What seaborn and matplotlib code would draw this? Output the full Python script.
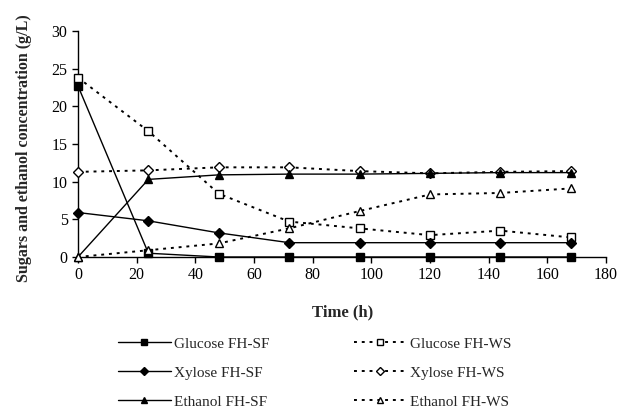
import matplotlib
matplotlib.use("Agg")
import matplotlib.pyplot as plt
import seaborn as sns
import pandas as pd
from matplotlib.lines import Line2D

sns.set_theme(style="ticks")
plt.rcParams["font.family"] = ["Liberation Serif", "DejaVu Serif"]

time_h = [0, 24, 48, 72, 96, 120, 144, 168]
glucose_sf = [22.7, 0.5, 0.0, 0.0, 0.0, 0.0, 0.0, 0.0]
xylose_sf = [5.9, 4.8, 3.2, 1.9, 1.9, 1.9, 1.9, 1.9]
ethanol_sf = [0.0, 10.3, 10.9, 11.0, 11.0, 11.1, 11.2, 11.2]
glucose_ws = [23.8, 16.7, 8.4, 4.7, 3.8, 2.9, 3.5, 2.6]
xylose_ws = [11.3, 11.5, 11.9, 11.9, 11.4, 11.1, 11.3, 11.4]
ethanol_ws = [0.0, 0.9, 1.8, 3.8, 6.1, 8.3, 8.5, 9.1]

series = [
    ("Glucose FH-SF", glucose_sf, "s", "black", "-"),
    ("Glucose FH-WS", glucose_ws, "s", "white", (0, (1.5, 2.5))),
    ("Xylose FH-SF", xylose_sf, "D", "black", "-"),
    ("Xylose FH-WS", xylose_ws, "D", "white", (0, (1.5, 2.5))),
    ("Ethanol FH-SF", ethanol_sf, "^", "black", "-"),
    ("Ethanol FH-WS", ethanol_ws, "^", "white", (0, (1.5, 2.5))),
]

fig = plt.figure(figsize=(6.19, 4.11), dpi=100)
ax = fig.add_axes([0.126, 0.3747, 0.853, 0.55])

handles = {}
for name, vals, mk, fc, ls in series:
    df = pd.DataFrame({"t": time_h, "v": vals})
    ms = 6 if mk != "D" else 5
    lw = 1.0 if ls == "-" else 1.4
    sns.lineplot(data=df, x="t", y="v", ax=ax, color="black", linestyle=ls,
                 linewidth=lw, marker=mk, markersize=ms, markerfacecolor=fc,
                 markeredgecolor="black", markeredgewidth=1.0, clip_on=False,
                 legend=False, zorder=3)
    handles[name] = Line2D([], [], color="black", linestyle=ls, linewidth=lw,
                           marker=mk, markersize=ms - 1, markerfacecolor=fc,
                           markeredgecolor="black")

ax.set_xlim(0, 180)
ax.set_ylim(0, 30)
ax.set_xticks(range(0, 181, 20))
ax.set_yticks(range(0, 31, 5))
ax.tick_params(axis="both", direction="out", length=4, width=1, labelsize=11.5,
               colors="black")
for s in ["top", "right"]:
    ax.spines[s].set_visible(False)
for s in ["left", "bottom"]:
    ax.spines[s].set_color("black")
    ax.spines[s].set_linewidth(1.0)
ax.set_xlabel("Time (h)", fontsize=12, fontweight="bold")
ax.set_ylabel("Sugars and ethanol concentration (g/L)", fontsize=11.5,
              fontweight="bold")
ax.xaxis.set_label_coords(0.502, -0.243)
ax.yaxis.set_label_coords(-0.102, 0.482)
ax.xaxis.label.set_verticalalignment("center")
ax.yaxis.label.set_verticalalignment("center")

order = ["Glucose FH-SF", "Xylose FH-SF", "Ethanol FH-SF",
         "Glucose FH-WS", "Xylose FH-WS", "Ethanol FH-WS"]
fig.legend([handles[n] for n in order], order, ncol=2, frameon=False,
           loc="upper left", bbox_to_anchor=(0.18, 0.195), fontsize=11,
           handlelength=3.5, numpoints=1, columnspacing=5.5,
           labelspacing=1.0, handletextpad=0.2, borderaxespad=0)
fig.savefig("out.png", dpi=100)
